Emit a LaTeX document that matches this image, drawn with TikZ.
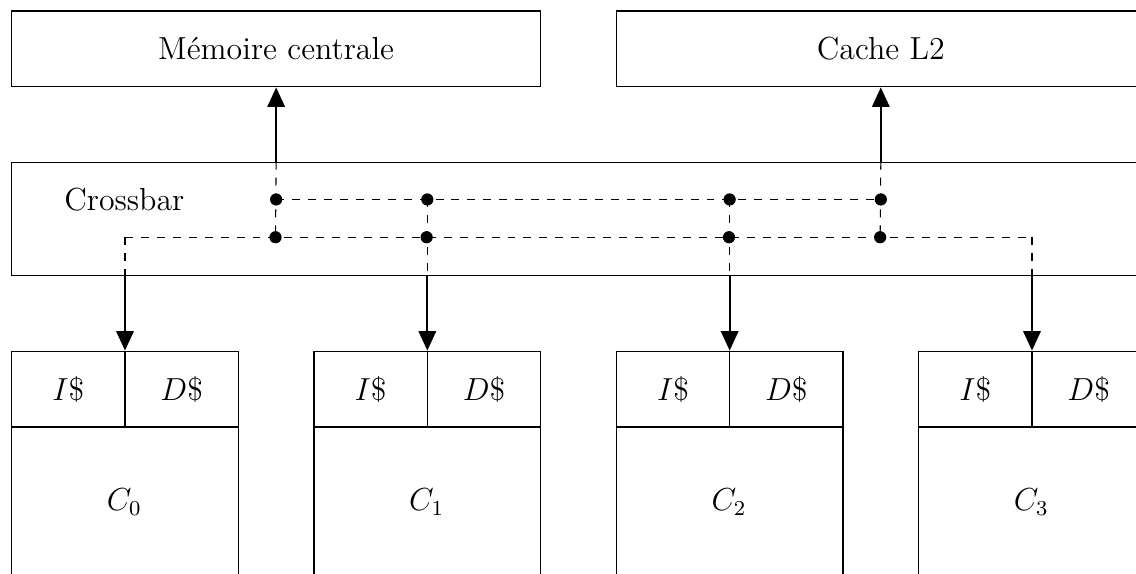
\documentclass[tikz,border=0pt]{standalone}
\usetikzlibrary{arrows.meta}
\begin{document}
\begin{tikzpicture}[
  font=\fontsize{12}{14.5}\selectfont,
  box/.style={draw, rectangle, inner sep=0pt, line width=0.5pt},
  arr/.style={thick, -{Triangle[length=7.3pt,width=6.5pt]}},
  bus/.style={dashed, line width=0.4pt},
  dotnode/.style={circle, fill, inner sep=0pt, minimum size=4.6pt},
]
\useasboundingbox (-0.145,0.139) rectangle (14.885,-7.454);
\clip (-0.145,0.139) rectangle (14.885,-7.454);

% upper boxes
\node[box, minimum width=7cm, minimum height=1cm, anchor=north west] (mem) at (0,0) {Mémoire centrale};
\node[box, minimum width=7cm, minimum height=1cm, anchor=north west] (l2) at (8,0) {Cache L2};

% crossbar
\node[box, minimum width=15cm, minimum height=1.5cm, anchor=north west] (xbar) at (0,-2) {};
\node (xlabel) at (1.5,-2.5) {Crossbar};

% cores
\foreach \i in {0,...,3}{
  \node[box, minimum width=3cm, minimum height=3cm, anchor=north west] (core\i) at (4*\i,-4.5) {};
  \node[box, minimum width=1.5cm, minimum height=1cm, anchor=north west] (ic\i) at (4*\i,-4.5) {$I\$$};
  \node[box, minimum width=1.5cm, minimum height=1cm, anchor=north west] (dc\i) at (4*\i+1.5,-4.5) {$D\$$};
  \node (cl\i) at (4*\i+1.5,-6.5) {$C_\i$};
}

% crossbar switch points
\coordinate (a1) at (mem.south |- xlabel);
\coordinate (a2) at (core1.north |- xlabel);
\coordinate (a3) at (core2.north |- xlabel);
\coordinate (a4) at (l2.south |- xlabel);
\coordinate (b1) at (3.5,-3);
\coordinate (b2) at (5.5,-3);
\coordinate (b3) at (9.5,-3);
\coordinate (b4) at (11.5,-3);
\coordinate (s0) at (core0.north |- b1);
\coordinate (s5) at (core3.north |- b1);

% dashed bus lines
\draw[bus] (a1) -- (a4);
\draw[bus] (s0) -- (s5);
\draw[bus] (a1 |- xbar.north) -- (b1);
\draw[bus] (a4 |- xbar.north) -- (b4);
\draw[bus] (a2) -- (a2 |- xbar.south);
\draw[bus] (a3) -- (a3 |- xbar.south);
\draw[bus] (s0) -- (s0 |- xbar.south);
\draw[bus] (s5) -- (s5 |- xbar.south);

% dots
\foreach \p in {a1,a2,a3,a4,b1,b2,b3,b4}{
  \node[dotnode] (dot-\p) at (\p) {};
}

% arrows up
\draw[arr] (mem.south |- xbar.north) -- (mem.south);
\draw[arr] (l2.south |- xbar.north) -- (l2.south);

% arrows down
\foreach \i in {0,...,3}{
  \draw[arr] (core\i.north |- xbar.south) -- (core\i.north);
}
\end{tikzpicture}
\end{document}
